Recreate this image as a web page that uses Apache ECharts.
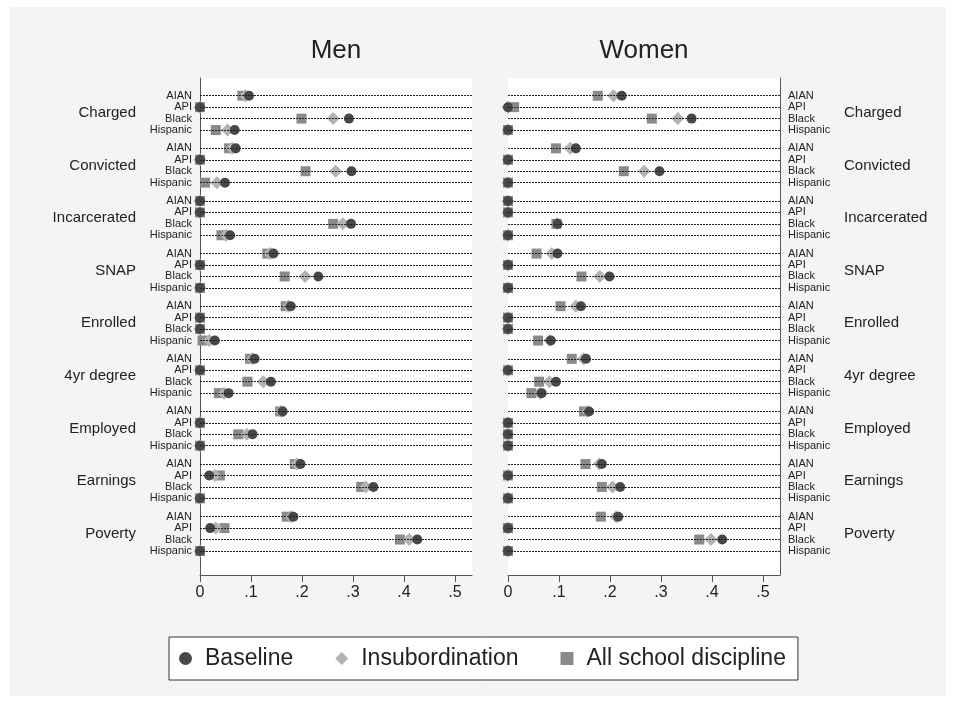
<!DOCTYPE html>
<html>
<head>
<meta charset="utf-8">
<script src="https://cdn.jsdelivr.net/npm/echarts@6/dist/echarts.min.js"></script>
<style>
  html, body { margin: 0; padding: 0; background: #fff; }
  #frame { position: absolute; left: 10px; top: 7px; width: 936px; height: 689px; background: #f4f4f4; }
  #chart { position: absolute; left: 0; top: 0; width: 956px; height: 702px; }
</style>
</head>
<body>
<div id="frame"></div>
<div id="chart"></div>
<script>
const outcomes = ['Charged', 'Convicted', 'Incarcerated', 'SNAP', 'Enrolled', '4yr degree', 'Employed', 'Earnings', 'Poverty']
const races = ['AIAN', 'API', 'Black', 'Hispanic']
const xTicks = [0, 0.1, 0.2, 0.3, 0.4, 0.5]

// one row per outcome, columns: AIAN, API, Black, Hispanic
const menBaseline = [
  [0.096, 0, 0.292, 0.068],
  [0.070, 0, 0.297, 0.049],
  [0, 0, 0.296, 0.059],
  [0.144, 0, 0.232, 0],
  [0.178, 0, 0, 0.029],
  [0.107, 0, 0.139, 0.056],
  [0.162, 0, 0.103, 0],
  [0.197, 0.018, 0.340, 0],
  [0.183, 0.020, 0.426, 0]
]
const menInsub = [
  [0.089, 0, 0.261, 0.054],
  [0.063, 0, 0.266, 0.033],
  [0, 0, 0.280, 0.051],
  [0.137, 0, 0.206, 0],
  [0.173, 0, 0, 0.018],
  [0.103, 0, 0.124, 0.047],
  [0.159, 0, 0.092, 0],
  [0.190, 0.029, 0.325, 0],
  [0.179, 0.031, 0.410, 0]
]
const menAll = [
  [0.083, 0, 0.199, 0.031],
  [0.057, 0, 0.207, 0.010],
  [0, 0, 0.261, 0.042],
  [0.132, 0, 0.166, 0],
  [0.168, 0, 0, 0.005],
  [0.098, 0, 0.093, 0.037],
  [0.157, 0, 0.075, 0],
  [0.186, 0.039, 0.316, 0],
  [0.170, 0.048, 0.392, 0]
]
const womenBaseline = [
  [0.223, 0, 0.360, 0],
  [0.133, 0, 0.297, 0],
  [0, 0, 0.097, 0],
  [0.097, 0, 0.199, 0],
  [0.143, 0, 0, 0.084],
  [0.153, 0, 0.094, 0.066],
  [0.159, 0, 0, 0],
  [0.184, 0, 0.220, 0],
  [0.216, 0, 0.420, 0]
]
const womenInsub = [
  [0.207, 0, 0.333, 0],
  [0.122, 0, 0.267, 0],
  [0, 0, 0.096, 0],
  [0.086, 0, 0.180, 0],
  [0.133, 0, 0, 0.082],
  [0.148, 0, 0.081, 0.063],
  [0.156, 0, 0, 0],
  [0.179, 0, 0.205, 0],
  [0.212, 0, 0.398, 0]
]
const womenAll = [
  [0.176, 0.012, 0.282, 0],
  [0.094, 0, 0.227, 0],
  [0, 0, 0.095, 0],
  [0.056, 0, 0.144, 0],
  [0.103, 0, 0, 0.059],
  [0.125, 0, 0.061, 0.046],
  [0.149, 0, 0, 0],
  [0.152, 0, 0.184, 0],
  [0.182, 0, 0.375, 0]
]

const GROUP_STEP = 4.6
const rowPos = []
const rowName = {}
outcomes.forEach((o, g) => races.forEach((r, i) => {
  const p = g * GROUP_STEP + i
  rowPos.push(p)
  rowName[p.toFixed(2)] = r
}))
const groupPos = outcomes.map((o, g) => g * GROUP_STEP + 1.5)
const groupName = {}
groupPos.forEach((p, g) => { groupName[p.toFixed(2)] = outcomes[g] })

function toPoints(rows) {
  const pts = []
  rows.forEach((vals, g) => vals.forEach((v, i) => pts.push([v, g * GROUP_STEP + i])))
  return pts
}

const markers = {
  'Baseline': { symbol: 'circle', size: 10, color: '#474747' },
  'Insubordination': { symbol: 'diamond', size: 13, color: '#b3b3b3' },
  'All school discipline': { symbol: 'rect', size: 10, color: '#8a8a8a' }
}

function yAxisPair(grid, pos) {
  const base = {
    type: 'value', gridIndex: grid, position: pos, inverse: true,
    min: -1.55, max: 41.9,
    splitLine: { show: false }, axisTick: { show: false }
  }
  return [
    Object.assign({}, base, {
      axisLine: { show: true, onZero: false, lineStyle: { color: '#555', width: 1 } },
      axisLabel: {
        customValues: rowPos, margin: 8, fontSize: 11, color: '#222',
        formatter: v => rowName[v.toFixed(2)] || ''
      }
    }),
    Object.assign({}, base, {
      offset: 56,
      axisLine: { show: false, onZero: false },
      axisLabel: {
        customValues: groupPos, margin: 8, fontSize: 15, color: '#222',
        formatter: v => groupName[v.toFixed(2)] || ''
      }
    })
  ]
}

function xAxis(grid) {
  return {
    type: 'value', gridIndex: grid, position: 'bottom', min: 0, max: 0.5333,
    splitLine: { show: false },
    axisLine: { show: true, onZero: false, lineStyle: { color: '#555' } },
    axisTick: { customValues: xTicks, length: 7, lineStyle: { color: '#555' } },
    axisLabel: {
      customValues: xTicks, margin: 10, fontSize: 16, color: '#222',
      formatter: v => v === 0 ? '0' : String(+v.toFixed(2)).replace(/^0/, '')
    }
  }
}

function panelSeries(xi, yi, all, insub, base) {
  const rows = {
    type: 'scatter', xAxisIndex: xi, yAxisIndex: yi, data: [], silent: true, z: 1,
    markLine: {
      silent: true, symbol: ['none', 'none'], label: { show: false },
      lineStyle: { color: '#222', width: 1, type: [2, 1] },
      data: rowPos.map(p => ({ yAxis: p }))
    }
  }
  const mk = (name, rowsData) => ({
    name, type: 'scatter', xAxisIndex: xi, yAxisIndex: yi, z: 3,
    symbol: markers[name].symbol, symbolSize: markers[name].size,
    itemStyle: { color: markers[name].color, opacity: 1 },
    data: toPoints(rowsData)
  })
  return [rows, mk('All school discipline', all), mk('Insubordination', insub), mk('Baseline', base)]
}

const chart = echarts.init(document.getElementById('chart'))
chart.setOption({
  backgroundColor: 'transparent',
  animation: false,
  textStyle: { fontFamily: 'Liberation Sans, Arial, sans-serif' },
  title: [
    { text: 'Men', left: 336, top: 38, textAlign: 'center', padding: 0,
      textStyle: { fontSize: 26, fontWeight: 'normal', color: '#222' } },
    { text: 'Women', left: 644, top: 38, textAlign: 'center', padding: 0,
      textStyle: { fontSize: 26, fontWeight: 'normal', color: '#222' } }
  ],
  legend: {
    left: 169, top: 637, orient: 'horizontal',
    padding: [10, 12, 10, 10], itemGap: 42, itemWidth: 13, itemHeight: 13,
    backgroundColor: '#fff', borderColor: '#333', borderWidth: 1, borderRadius: 0,
    textStyle: { fontSize: 23, color: '#222', padding: [0, 0, 0, 8] },
    data: [
      { name: 'Baseline', icon: 'circle' },
      { name: 'Insubordination', icon: 'diamond' },
      { name: 'All school discipline', icon: 'rect' }
    ]
  },
  grid: [
    { left: 200, top: 78, width: 272, height: 497, show: true, backgroundColor: '#fff', borderWidth: 0 },
    { left: 508, top: 78, width: 272, height: 497, show: true, backgroundColor: '#fff', borderWidth: 0 }
  ],
  xAxis: [xAxis(0), xAxis(1)],
  yAxis: [...yAxisPair(0, 'left'), ...yAxisPair(1, 'right')],
  series: [
    ...panelSeries(0, 0, menAll, menInsub, menBaseline),
    ...panelSeries(1, 2, womenAll, womenInsub, womenBaseline)
  ]
})
</script>
</body>
</html>
